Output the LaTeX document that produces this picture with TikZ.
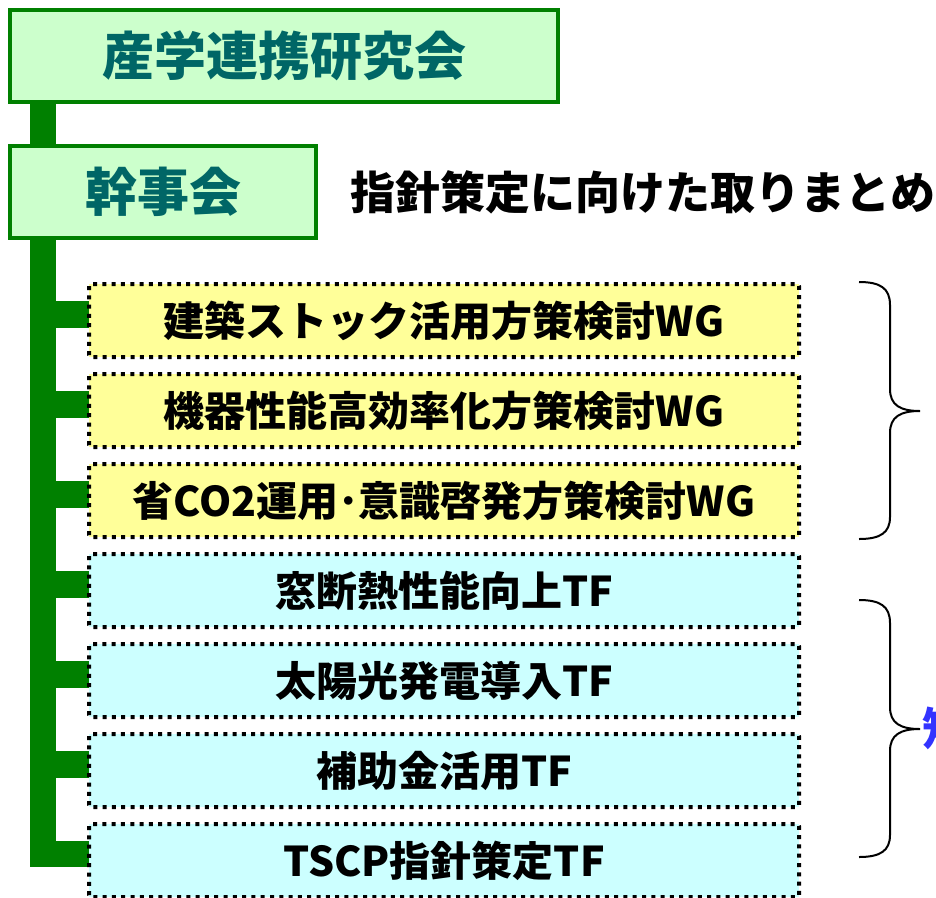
\documentclass[tikz,border=0pt]{standalone}
\usepackage{fontspec}
\newfontfamily\jp{Noto Sans CJK JP}
\definecolor{grn}{RGB}{0,128,0}
\definecolor{lgreen}{RGB}{204,255,204}
\definecolor{tealtxt}{RGB}{0,102,102}
\definecolor{lyellow}{RGB}{255,255,153}
\definecolor{lcyan}{RGB}{204,255,255}
\definecolor{bluetxt}{RGB}{51,51,255}
\begin{document}
\begin{tikzpicture}[x=1pt,y=-1pt,
  trunk/.style={draw=grn, line width=26pt, line cap=butt, line join=miter},
  stubline/.style={draw=grn, line width=27pt, line cap=butt},
  topbox/.style={draw=grn, line width=4pt, fill=lgreen, text=tealtxt,
    font=\jp\bfseries\fontsize{52}{56}\selectfont, inner sep=0pt, outer sep=0pt,
    anchor=north west, minimum height=92pt},
  wgbox/.style={fill=#1, minimum width=710pt, minimum height=73pt,
    inner sep=0pt, outer sep=0pt, anchor=north west,
    font=\jp\bfseries\fontsize{41}{46}\selectfont},
  dotborder/.style={draw=black, line width=4pt, dash pattern=on 4pt off 5.3pt, rounded corners=2pt},
  bracepath/.style={draw=black, line width=2pt},
  plain/.style={font=\jp\bfseries\fontsize{45}{50}\selectfont, inner sep=0pt, anchor=west}
]
\useasboundingbox (0,0) rectangle (936,897);

% top boxes
\node[topbox, minimum width=548pt] (sangaku) at (10,10) {産学連携研究会};
\node[topbox, minimum width=306pt] (kanji) at (10,146) {幹事会};
\coordinate (tr) at ([xshift=33pt]kanji.south west);

% working group / task force boxes
\node[wgbox=lyellow] (w1) at (89,284) {建築ストック活用方策検討WG};
\node[wgbox=lyellow] (w2) at (89,374) {機器性能高効率化方策検討WG};
\node[wgbox=lyellow] (w3) at (89,464) {省CO2運用･意識啓発方策検討WG};
\node[wgbox=lcyan] (w4) at (89,554) {窓断熱性能向上TF};
\node[wgbox=lcyan] (w5) at (89,644) {太陽光発電導入TF};
\node[wgbox=lcyan] (w6) at (89,734) {補助金活用TF};
\node[wgbox=lcyan] (w7) at (89,824) {TSCP指針策定TF};

% trunk and stubs
\draw[trunk] ([xshift=33pt]sangaku.south west) -- ([xshift=33pt]kanji.north west);
\foreach \i in {1,...,7}{\coordinate (s\i) at ([yshift=6.5pt]w\i.west);}
\draw[trunk] (tr) |- (s7);
\foreach \i in {1,...,6}{\draw[stubline] (s\i) -- (tr |- s\i);}

% dotted borders of the boxes
\foreach \i in {1,...,7}{
  \draw[dotborder] (w\i.north west) rectangle (w\i.south east);
}

% side text
\node[plain] (shishin) at (350,192) {指針策定に向けた取りまとめ};
\node[plain, text=bluetxt] (tanki) at (922,728) {短期};

% braces
\coordinate (b1t) at (859,282);
\coordinate (b1m) at (920,411);
\coordinate (b1b) at (859,539);
\draw[bracepath] (b1t) .. controls (880,282) and (890,288) .. (890,305) -- (890,389)
  .. controls (890,405) and (900,411) .. (b1m)
  .. controls (900,411) and (890,417) .. (890,433) -- (890,517)
  .. controls (890,533) and (880,539) .. (b1b);
\coordinate (b2t) at (859,600);
\coordinate (b2m) at (920,729);
\coordinate (b2b) at (859,857);
\draw[bracepath] (b2t) .. controls (880,600) and (890,606) .. (890,623) -- (890,707)
  .. controls (890,723) and (900,729) .. (b2m)
  .. controls (900,729) and (890,735) .. (890,751) -- (890,835)
  .. controls (890,851) and (880,857) .. (b2b);
\end{tikzpicture}
\end{document}
